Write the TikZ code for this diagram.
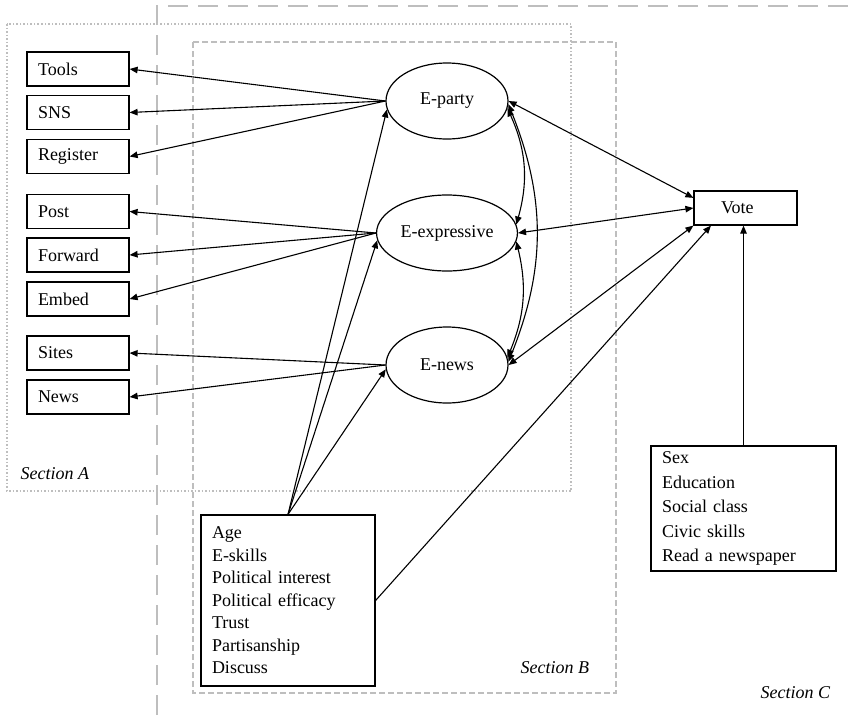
\documentclass[tikz,border=0pt]{standalone}
\usepackage{fontspec}
\setmainfont{Liberation Serif}
\usetikzlibrary{arrows.meta,positioning,shapes.geometric}
\definecolor{secgray}{RGB}{190,190,190}

\begin{document}
\begin{tikzpicture}[x=1pt,y=-1pt,
		every node/.style={font=\fontsize{18}{22.5}\selectfont},
		itembox/.style={draw,line width=1.2pt,minimum width=102pt,minimum height=34pt,text width=80pt,inner xsep=11pt,align=left},
		factor/.style={draw,ellipse,line width=1.2pt,minimum width=122pt,minimum height=76pt},
		listbox/.style={draw,line width=1.2pt,align=left,inner xsep=11pt},
		seclabel/.style={font=\fontsize{18}{20}\selectfont\itshape,anchor=west},
		link/.style={-{Triangle[length=8pt,width=6.5pt]},line width=1.1pt},
		corr/.style={{Triangle[length=8pt,width=6.5pt]}-{Triangle[length=8pt,width=6.5pt]},line width=1.1pt}]
	\useasboundingbox (0,0) rectangle (848,715);
	%
	% sections
	\draw[secgray,line width=1.5pt,dotted] (7,24) rectangle (571,491);
	\draw[secgray,line width=1.5pt,dash pattern=on 6pt off 3pt] (193,42) rectangle (616,693);
	\draw[secgray,line width=2pt,dash pattern=on 20pt off 10pt] (157,715) -- (157,6) -- (848,6);
	\node[seclabel] (labA) at (17,474) {Section A};
	\node[seclabel] (labB) at (517,668) {Section B};
	\node[seclabel] (labC) at (757,693) {Section C};
	%
	% indicators
	\node[itembox] (tools) at (78,69) {Tools};
	\node[itembox] (sns) at (78,112.5) {SNS};
	\node[itembox] (register) at (78,156.5) {Register};
	\node[itembox] (post) at (78,211.5) {Post};
	\node[itembox] (forward) at (78,255) {Forward};
	\node[itembox] (embed) at (78,299) {Embed};
	\node[itembox] (sites) at (78,353) {Sites};
	\node[itembox] (news) at (78,397) {News};
	%
	% factors
	\node[factor] (eparty) at (447,101) {E-party};
	\node[factor] (eexpr) at (447,233) {E-expressive};
	\node[factor] (enews) at (447,365) {E-news};
	%
	\node[listbox,minimum width=103pt,minimum height=34pt,text width=49pt,inner xsep=27pt] (vote) at (745.5,208) {Vote};
	\node[listbox,text width=152pt,minimum height=171pt] (predict) at (288,600.5)
		{Age\\E-skills\\Political interest\\Political efficacy\\Trust\\Partisanship\\Discuss};
	\node[listbox,text width=163pt,minimum height=125pt,font=\fontsize{18}{24.5}\selectfont] (control) at (743.5,508.5)
		{Sex\\Education\\Social class\\Civic skills\\Read a newspaper};
	%
	\draw[link] (eparty.west) -- (tools.east);
	\draw[link] (eparty.west) -- (sns.east);
	\draw[link] (eparty.west) -- (register.east);
	\draw[link] (eexpr.west) -- (post.east);
	\draw[link] (eexpr.west) -- (forward.east);
	\draw[link] (eexpr.west) -- (embed.east);
	\draw[link] (enews.west) -- (sites.east);
	\draw[link] (enews.west) -- (news.east);
	%
	\draw[link] (predict.north) -- (eparty.188);
	\draw[link] (predict.north) -- (eexpr.186);
	\draw[link] (predict.north) -- (enews.184);
	\draw[link] (predict.east) -- (vote.207);
	\draw[link] (control.north) -- (vote.south -| control.north);
	%
	\draw[corr] (eparty.-7) to[bend left=20] (eexpr.7);
	\draw[corr] (eexpr.-7) to[bend left=18] (enews.7);
	\draw[corr] (eparty.-3) to[bend left=22] (enews.3);
	%
	\draw[corr] (eparty.east) -- (vote.169);
	\draw[corr] (eexpr.east) -- (vote.west);
	\draw[corr] (enews.east) -- (vote.south west);
\end{tikzpicture}
\end{document}
